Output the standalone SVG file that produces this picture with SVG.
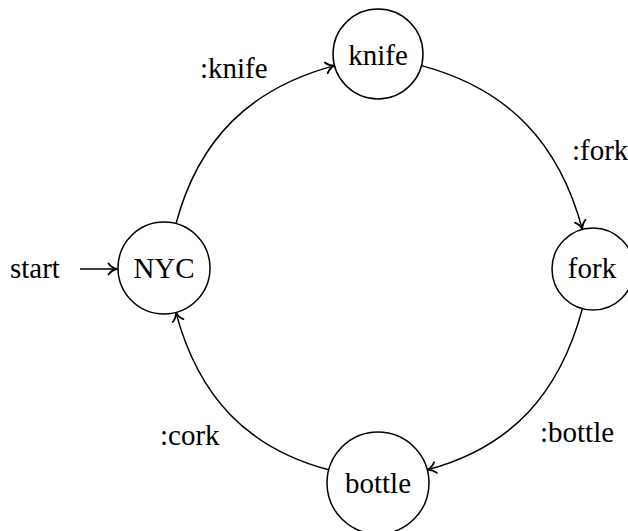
<svg xmlns="http://www.w3.org/2000/svg" width="628" height="531" viewBox="0 0 628 531">
  <defs>
    <marker id="tip" markerUnits="userSpaceOnUse" viewBox="-10 -7 12 14" refX="0" refY="0" markerWidth="12" markerHeight="14" orient="auto" overflow="visible">
      <path d="M -8.5,-5.5 C -6,-2 -2.8,-0.6 0,0 C -2.8,0.6 -6,2 -8.5,5.5" fill="none" stroke="#000000" stroke-width="1.8" stroke-linecap="round" stroke-linejoin="round"/>
    </marker>
  </defs>
  <g font-family="Liberation Serif" font-size="29">
    <g id="connectors">
      <g fill="none" stroke="#000000" stroke-width="1.5" marker-end="url(#tip)">
        <path d="M 80,269 L 117,269"/>
        <path d="M 176,223.6 C 198.7,139 249.9,88.3 334.5,65.6"/>
        <path d="M 421.5,65.6 C 508.3,88.9 559.1,142.6 582.4,229.4"/>
        <path d="M 582.4,308.6 C 559.7,393.2 511.9,447.1 427.3,469.8"/>
        <path d="M 328.7,469.8 C 245.7,447.6 198.1,395.4 175.9,312.4"/>
      </g>
      <text x="200" y="78">:knife</text>
      <text x="572" y="160">:fork</text>
      <text x="540" y="442">:bottle</text>
      <text x="160" y="445">:cork</text>
    </g>
    <g id="start">
      <text x="10" y="278">start</text>
    </g>
    <g id="NYC">
      <circle cx="164" cy="268" r="46" fill="#ffffff" stroke="#000000" stroke-width="1.5"/>
      <text x="164" y="278" text-anchor="middle">NYC</text>
    </g>
    <g id="knife">
      <circle cx="378" cy="54" r="45" fill="#ffffff" stroke="#000000" stroke-width="1.5"/>
      <text x="378" y="65" text-anchor="middle">knife</text>
    </g>
    <g id="fork">
      <circle cx="593" cy="269" r="41" fill="#ffffff" stroke="#000000" stroke-width="1.5"/>
      <text x="592" y="278" text-anchor="middle">fork</text>
    </g>
    <g id="bottle">
      <circle cx="378" cy="483" r="51" fill="#ffffff" stroke="#000000" stroke-width="1.5"/>
      <text x="378" y="493" text-anchor="middle">bottle</text>
    </g>
  </g>
</svg>
